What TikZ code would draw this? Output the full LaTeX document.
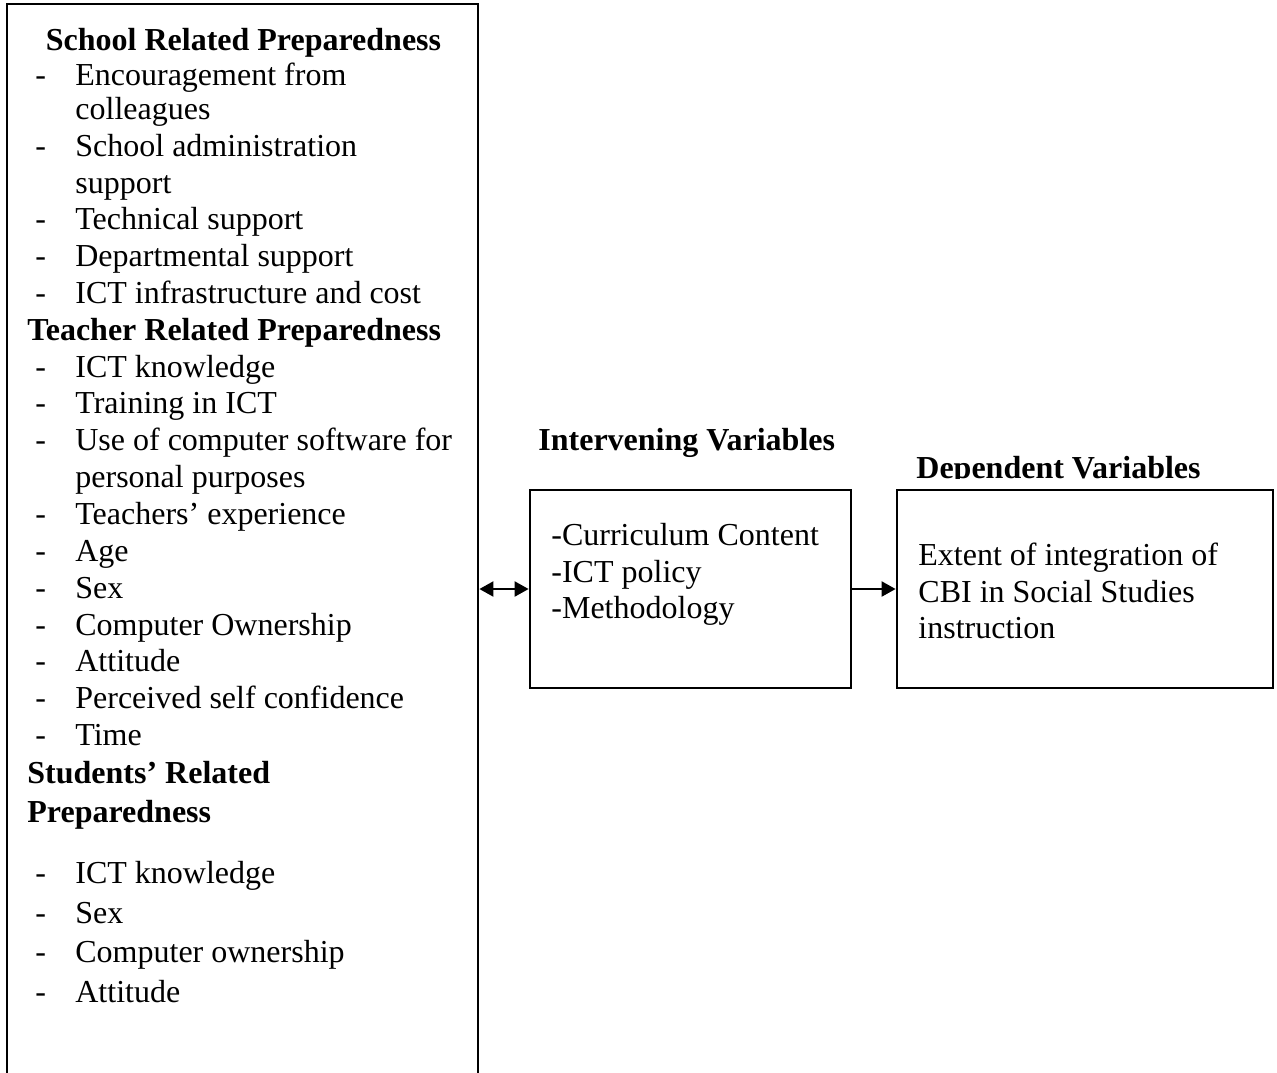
\documentclass[tikz,border=0pt]{standalone}
\usepackage{fontspec}
\setmainfont{Liberation Serif}
\usetikzlibrary{arrows.meta, positioning}
\newcommand{\txtsize}{\fontsize{16}{18}\selectfont}
\newcommand{\itm}[1]{\makebox[20pt][l]{-}#1}

\begin{document}
\begin{tikzpicture}[x=0.5pt,y=-0.5pt,
  box/.style={draw,line width=1.4pt,inner sep=0pt},
  txt/.style={anchor=base west,inner sep=0pt,font=\txtsize},
  hd/.style={txt,font=\txtsize\bfseries},
  link/.style={line width=1.1pt},
  tip/.tip={Triangle[length=7pt,width=7.5pt]}]
  \useasboundingbox (0,0) rectangle (1277,1072);

  % Boxes
  \node[box,minimum width=235.5pt,minimum height=548pt] (prep) at (242.5,552) {};
  \node[box,minimum width=160.5pt,minimum height=99pt] (mid) at (690.5,589) {};
  \node[box,minimum width=188pt,minimum height=99pt] (dep) at (1085,589) {};

  % School related
  \node[hd,anchor=base] (shead) at (243.5,50) {School Related Preparedness};
  \node[txt] (s1) at (35,85) {\itm{Encouragement from}};
  \node[txt] (s1b) at (75,119) {colleagues};
  \node[txt] (s2) at (35,156) {\itm{School administration}};
  \node[txt] (s2b) at (75,193) {support};
  \node[txt] (s3) at (35,229) {\itm{Technical support}};
  \node[txt] (s4) at (35,266) {\itm{Departmental support}};
  \node[txt] (s5) at (35,303) {\itm{ICT infrastructure and cost}};

  % Teacher related
  \node[hd] (thead) at (27,340) {Teacher Related Preparedness};
  \node[txt] (t1) at (35,377) {\itm{ICT knowledge}};
  \node[txt] (t2) at (35,413) {\itm{Training in ICT}};
  \node[txt] (t3) at (35,450) {\itm{Use of computer software for}};
  \node[txt] (t3b) at (75,487) {personal purposes};
  \node[txt] (t4) at (35,524) {\itm{Teachers’ experience}};
  \node[txt] (t5) at (35,561) {\itm{Age}};
  \node[txt] (t6) at (35,598) {\itm{Sex}};
  \node[txt] (t7) at (35,635) {\itm{Computer Ownership}};
  \node[txt] (t8) at (35,671) {\itm{Attitude}};
  \node[txt] (t9) at (35,708) {\itm{Perceived self confidence}};
  \node[txt] (t10) at (35,745) {\itm{Time}};

  % Students related
  \node[hd] (uhead) at (27,783) {Students’ Related};
  \node[hd] (uheadb) at (27,822) {Preparedness};
  \node[txt] (u1) at (35,883) {\itm{ICT knowledge}};
  \node[txt] (u2) at (35,923) {\itm{Sex}};
  \node[txt] (u3) at (35,962) {\itm{Computer ownership}};
  \node[txt] (u4) at (35,1002) {\itm{Attitude}};

  % Intervening variables
  \node[hd] (ihead) at (538,450) {Intervening Variables};
  \node[txt] (i1) at (551,545) {-Curriculum Content};
  \node[txt] (i2) at (551,582) {-ICT policy};
  \node[txt] (i3) at (551,618) {-Methodology};

  % Dependent variables
  \begin{scope}
    \clip (900,440) rectangle (1230,478);
    \node[hd] (dhead) at (916,478) {Dependent Variables};
  \end{scope}
  \node[txt] (d1) at (918,565) {Extent of integration of};
  \node[txt] (d2) at (918,602) {CBI in Social Studies};
  \node[txt] (d3) at (918,638) {instruction};

  % Connectors
  \draw[link,tip-tip] (prep.east |- mid.west) -- (mid.west);
  \draw[link,-tip] (mid) -- (dep);
\end{tikzpicture}
\end{document}
